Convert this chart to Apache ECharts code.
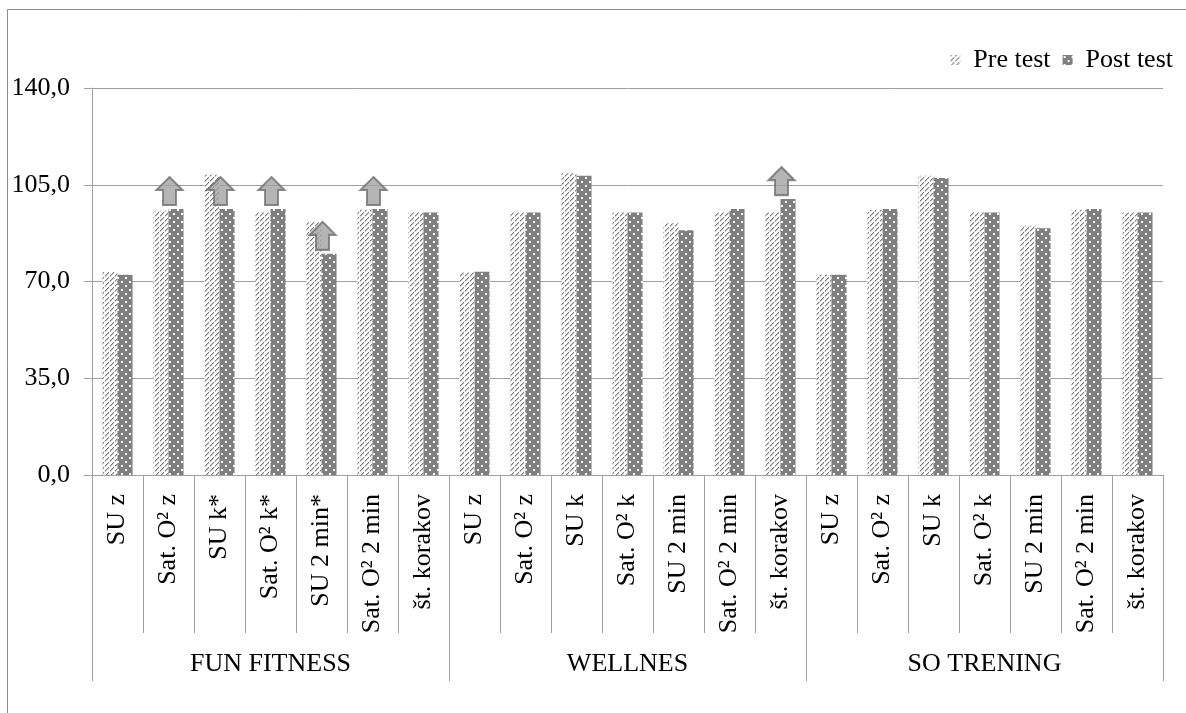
<!DOCTYPE html>
<html>
<head>
<meta charset="utf-8">
<script src="https://cdn.jsdelivr.net/npm/echarts@6/dist/echarts.min.js"></script>
<style>
  html, body { margin: 0; padding: 0; background: #fff; }
  #chart { width: 1186px; height: 713px; }
</style>
</head>
<body>
<div id="chart"></div>
<script>
// Measurements per program and test
const groups = ['FUN FITNESS', 'WELLNES', 'SO TRENING'];
const categories = [
  'SU z', 'Sat. O² z', 'SU k*', 'Sat. O² k*', 'SU 2 min*', 'Sat. O² 2 min', 'št. korakov',
  'SU z', 'Sat. O² z', 'SU k', 'Sat. O² k', 'SU 2 min', 'Sat. O² 2 min', 'št. korakov',
  'SU z', 'Sat. O² z', 'SU k', 'Sat. O² k', 'SU 2 min', 'Sat. O² 2 min', 'št. korakov'
];
const preTest = [
  73.4, 95.6, 108.6, 95.0, 91.4, 96.0, 95.0,
  73.3, 95.0, 109.2, 95.0, 91.1, 95.0, 95.0,
  72.4, 96.0, 108.3, 95.0, 90.2, 96.0, 95.0
];
const postTest = [
  72.4, 96.2, 96.2, 96.2, 80.0, 96.2, 95.0,
  73.5, 95.0, 108.3, 95.0, 88.5, 96.2, 99.8,
  72.4, 96.2, 107.4, 95.0, 89.3, 96.2, 95.0
];
// Categories marked with an upward arrow above the post-test bar
const arrowIdx = [1, 2, 3, 4, 5, 13];
const yTicks = { min: 0, max: 140, step: 35 };

const FONT = '"Liberation Serif", "Times New Roman", serif';
const FS = 26;
const LINE = '#a0a0a0';

// Dashed diagonal hatch tile for pre-test bars
function hatchTile() {
  const n = 10;
  const c = document.createElement('canvas');
  c.width = n; c.height = n;
  const g = c.getContext('2d');
  g.fillStyle = '#ffffff';
  g.fillRect(0, 0, n, n);
  for (let y = 0; y < n; y++) {
    for (let x = 0; x < n; x++) {
      const d = (x + y) % 5;
      if (d === 0) {
        g.fillStyle = (x % 5 === 4) ? '#e0e0e0' : '#7a7a7a';
        g.fillRect(x, y, 1, 1);
      } else if (d === 1) {
        g.fillStyle = (x % 5 === 4) ? '#ffffff' : '#c4c4c4';
        g.fillRect(x, y, 1, 1);
      }
    }
  }
  return c;
}
// Dotted tile for post-test bars
function dotTile() {
  const c = document.createElement('canvas');
  c.width = 8; c.height = 8;
  const g = c.getContext('2d');
  g.fillStyle = '#7f7f7f';
  g.fillRect(0, 0, 8, 8);
  g.fillStyle = '#ffffff';
  g.fillRect(1, 1, 2, 2);
  g.fillRect(5, 5, 2, 2);
  return c;
}

const preFill = { image: hatchTile(), repeat: 'repeat' };
const postFill = { image: dotTile(), repeat: 'repeat' };

const arrowPath = 'path://M13,0 L26,13 L19.5,13 L19.5,28 L6.5,28 L6.5,13 L0,13 Z';
const arrowData = arrowIdx.map(i => [i, postTest[i]]);

const chart = echarts.init(document.getElementById('chart'), null, { renderer: 'canvas' });
chart.setOption({
  animation: false,
  backgroundColor: '#ffffff',
  textStyle: { fontFamily: FONT, color: '#000' },
  graphic: [{
    type: 'rect',
    silent: true,
    shape: { x: 7.5, y: 9.5, width: 1400, height: 1000 },
    style: { fill: 'none', stroke: '#8c8c8c', lineWidth: 1 }
  }],
  legend: {
    data: ['Pre test', 'Post test'],
    right: 8,
    top: 42,
    icon: 'rect',
    itemWidth: 10,
    itemHeight: 10,
    itemGap: 12,
    textStyle: { fontFamily: FONT, fontSize: FS, color: '#000', padding: [0, 0, 0, 8] }
  },
  grid: { left: 92, right: 23, top: 88, bottom: 238, outerBoundsMode: 'none' },
  xAxis: [{
    type: 'category',
    position: 'bottom',
    data: categories,
    boundaryGap: true,
    axisLine: { show: true, lineStyle: { color: LINE } },
    axisTick: { show: true, interval: 0, length: 158, lineStyle: { color: LINE } },
    axisLabel: { interval: 0, rotate: 90, margin: 19, fontFamily: FONT, fontSize: FS, color: '#000' }
  }, {
    type: 'category',
    position: 'bottom',
    data: groups,
    boundaryGap: true,
    axisLine: { show: false },
    axisTick: { show: true, interval: 0, length: 206, lineStyle: { color: LINE } },
    axisLabel: { interval: 0, margin: 176, fontFamily: FONT, fontSize: FS, color: '#000' }
  }],
  yAxis: {
    type: 'value',
    min: yTicks.min,
    max: yTicks.max,
    interval: yTicks.step,
    axisLine: { show: true, lineStyle: { color: LINE } },
    axisTick: { show: true, length: 8, lineStyle: { color: LINE } },
    splitLine: { show: true, lineStyle: { color: LINE } },
    axisLabel: {
      margin: 22,
      fontFamily: FONT,
      fontSize: FS,
      color: '#000',
      formatter: v => v.toFixed(1).replace('.', ',')
    }
  },
  series: [{
    name: 'Pre test',
    type: 'bar',
    data: preTest,
    barGap: '0%',
    barCategoryGap: '41%',
    itemStyle: { color: preFill }
  }, {
    name: 'Post test',
    type: 'bar',
    data: postTest,
    barGap: '0%',
    barCategoryGap: '41%',
    itemStyle: { color: postFill }
  }, {
    name: 'increase',
    type: 'scatter',
    data: arrowData,
    z: 5,
    symbol: arrowPath,
    symbolSize: [26, 28],
    symbolOffset: [1, -18],
    itemStyle: { color: '#a3a3a3', borderColor: '#6e6e6e', borderWidth: 2 },
    silent: true
  }]
});
</script>
</body>
</html>
